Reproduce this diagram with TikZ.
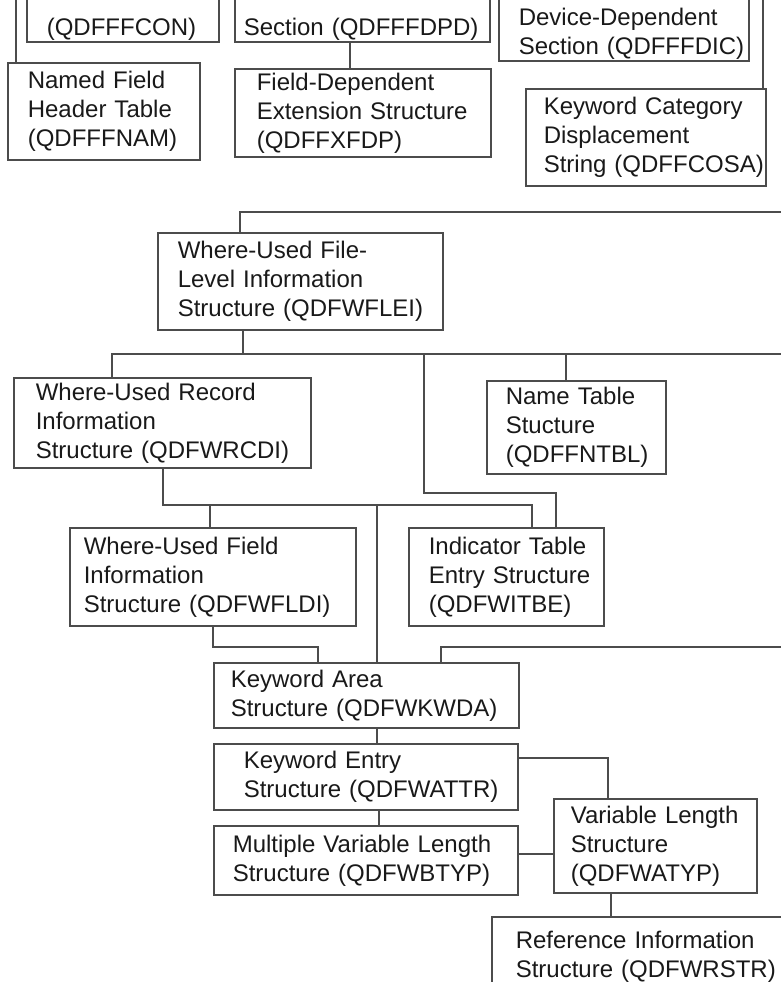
\documentclass[tikz,border=0pt]{standalone}
\usepackage{fontspec}
\newfontfamily\chartfont{Liberation Sans}
\definecolor{lineclr}{gray}{0.3}
\definecolor{txtclr}{gray}{0.1}
\tikzset{
  struct/.style={draw=lineclr, line width=1.6pt, text=txtclr, align=left,
    anchor=north west, inner xsep=18pt, inner ysep=3pt,
    font=\chartfont\fontsize{24}{29}\selectfont,
    execute at begin node={\hyphenpenalty=10000 \exhyphenpenalty=10000 }},
  cutoff/.style={struct, anchor=south west, inner ysep=2pt},
  link/.style={draw=lineclr, line width=1.6pt},
}

\begin{document}
\begin{tikzpicture}[x=1pt,y=-1pt]
  \useasboundingbox (0,0) rectangle (780,982);

  \node[cutoff, inner xsep=20pt, text width=152pt, text height=60pt] (con) at (26,43) {(QDFFFCON)};
  \node[cutoff, inner xsep=9pt, text width=237pt, text height=60pt] (dpd) at (234,43) {Section~(QDFFFDPD)};
  \node[cutoff, inner xsep=20pt, text width=210pt, text height=70pt] (dic) at (498,62) {Device-Dependent\\Section~(QDFFFDIC)};

  \node[struct, inner xsep=20pt, text width=152pt, minimum height=97pt] (nam) at (7,62) {Named Field\\Header Table\\(QDFFFNAM)};
  \node[struct, inner xsep=22pt, text width=212pt, minimum height=88pt] (xfdp) at (234,68) {Field-Dependent\\Extension~Structure\\(QDFFXFDP)};
  \node[struct, text width=204pt, minimum height=97pt] (cosa) at (525,88) {Keyword~Category\\Displacement\\String~(QDFFCOSA)};

  \node[struct, inner xsep=20pt, text width=245pt, minimum height=97pt] (flei) at (157,232) {Where-Used File-\\Level~Information\\Structure~(QDFWFLEI)};
  \node[struct, inner xsep=22pt, text width=253pt, minimum height=90pt] (rcdi) at (13,377) {Where-Used~Record\\Information\\Structure~(QDFWRCDI)};
  \node[struct, inner xsep=19pt, text width=141pt, minimum height=93pt] (ntbl) at (486,380) {Name~Table\\Stucture\\(QDFFNTBL)};
  \node[struct, inner xsep=14pt, text width=258pt, minimum height=98pt] (wfldi) at (69,527) {Where-Used~Field\\Information\\Structure~(QDFWFLDI)};
  \node[struct, inner xsep=20pt, text width=155pt, minimum height=98pt] (witbe) at (408,527) {Indicator~Table\\Entry~Structure\\(QDFWITBE)};

  \node[struct, inner xsep=17pt, text width=271pt, minimum height=65pt] (kwda) at (213,662) {Keyword~Area\\Structure~(QDFWKWDA)};
  \node[struct, inner xsep=30pt, text width=244pt, minimum height=66pt] (wattr) at (213,743) {Keyword~Entry\\Structure~(QDFWATTR)};
  \node[struct, inner xsep=19pt, text width=266pt, minimum height=69pt] (wbtyp) at (213,825) {Multiple~Variable~Length\\Structure~(QDFWBTYP)};
  \node[struct, inner xsep=17pt, text width=169pt, minimum height=94pt] (watyp) at (553,798) {Variable~Length\\Structure\\(QDFWATYP)};
  \node[struct, inner xsep=24pt, text width=262pt, minimum height=80pt] (wrstr) at (491,916) {Reference~Information\\Structure~(QDFWRSTR)};

  \coordinate (topL) at (16,-10);
  \coordinate (topR) at (763,-10);
  \coordinate (busA) at (790,212);
  \coordinate (busB) at (790,354);
  \coordinate (busC) at (790,647);

  \draw[link] (topL) -- (topL |- nam.north);
  \draw[link] (350,0 |- dpd.south) -- (350,0 |- xfdp.north);
  \draw[link] (topR) -- (topR |- cosa.north);

  \draw[link] (busA) -| (240,0 |- flei.north);
  \draw[link] (243,0 |- flei.south) -- (243,0 |- busB);
  \draw[link] (busB) -| (112,0 |- rcdi.north);
  \draw[link] (566,0 |- busB) -- (566,0 |- ntbl.north);
  \draw[link] (424,0 |- busB) |- (556,493) -- (556,0 |- witbe.north);

  \draw[link] (163,0 |- rcdi.south) |- (532,505) -- (532,0 |- witbe.north);
  \draw[link] (210,505) -- (210,0 |- wfldi.north);
  \draw[link] (377,505) -- (377,0 |- kwda.north);
  \draw[link] (213,0 |- wfldi.south) |- (318,647) -- (318,0 |- kwda.north);
  \draw[link] (busC) -| (441,0 |- kwda.north);

  \draw[link] (377,0 |- kwda.south) -- (377,0 |- wattr.north);
  \draw[link] (379,0 |- wattr.south) -- (379,0 |- wbtyp.north);
  \draw[link] (wattr.east |- 0,758) -| (608,0 |- watyp.north);
  \draw[link] (wbtyp.east |- 0,854) -- (watyp.west |- 0,854);
  \draw[link] (611,0 |- watyp.south) -- (611,0 |- wrstr.north);
\end{tikzpicture}
\end{document}
